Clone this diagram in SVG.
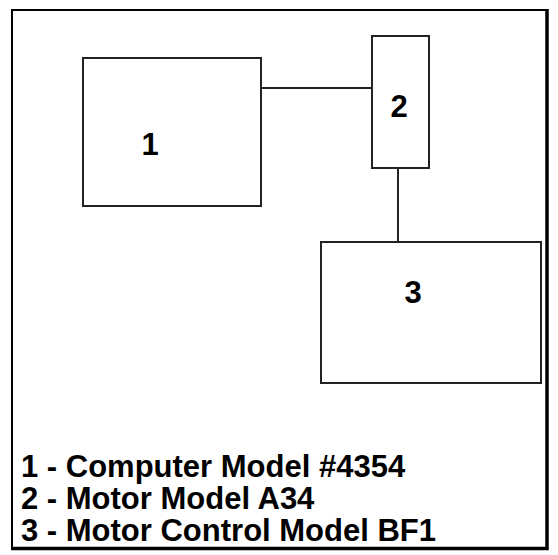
<svg xmlns="http://www.w3.org/2000/svg" width="558" height="555" viewBox="0 0 558 555">
  <style>
    .box { fill: #ffffff; stroke: #222222; stroke-width: 2; }
    .conn { stroke: #222222; stroke-width: 2; fill: none; }
    .lbl { font-family: "Liberation Sans", Arial, sans-serif; font-weight: bold; font-size: 31px; fill: #000000; }
  </style>
  <rect x="0" y="0" width="558" height="555" fill="#ffffff"/>
  <g id="frame">
    <path d="M12,549 L12,10 L547,10" fill="none" stroke="#000000" stroke-width="2"/>
    <path d="M547,9 L547,548.5 L11,548.5" fill="none" stroke="#000000" stroke-width="3.5"/>
  </g>
  <g id="connectors">
    <line class="conn" x1="261" y1="88" x2="372" y2="88"/>
    <line class="conn" x1="398" y1="168" x2="398" y2="242"/>
  </g>
  <g id="node-1">
    <rect class="box" x="83" y="58" width="178" height="148"/>
    <text class="lbl" x="150" y="155" text-anchor="middle">1</text>
  </g>
  <g id="node-2">
    <rect class="box" x="372" y="36" width="57" height="132"/>
    <text class="lbl" x="399" y="117" text-anchor="middle">2</text>
  </g>
  <g id="node-3">
    <rect class="box" x="321" y="242" width="220" height="141"/>
    <text class="lbl" x="413" y="303" text-anchor="middle">3</text>
  </g>
  <g id="legend">
    <text class="lbl" x="21" y="477">1 - Computer Model #4354</text>
    <text class="lbl" x="21" y="509">2 - Motor Model A34</text>
    <text class="lbl" x="21" y="541">3 - Motor Control Model BF1</text>
  </g>
</svg>
